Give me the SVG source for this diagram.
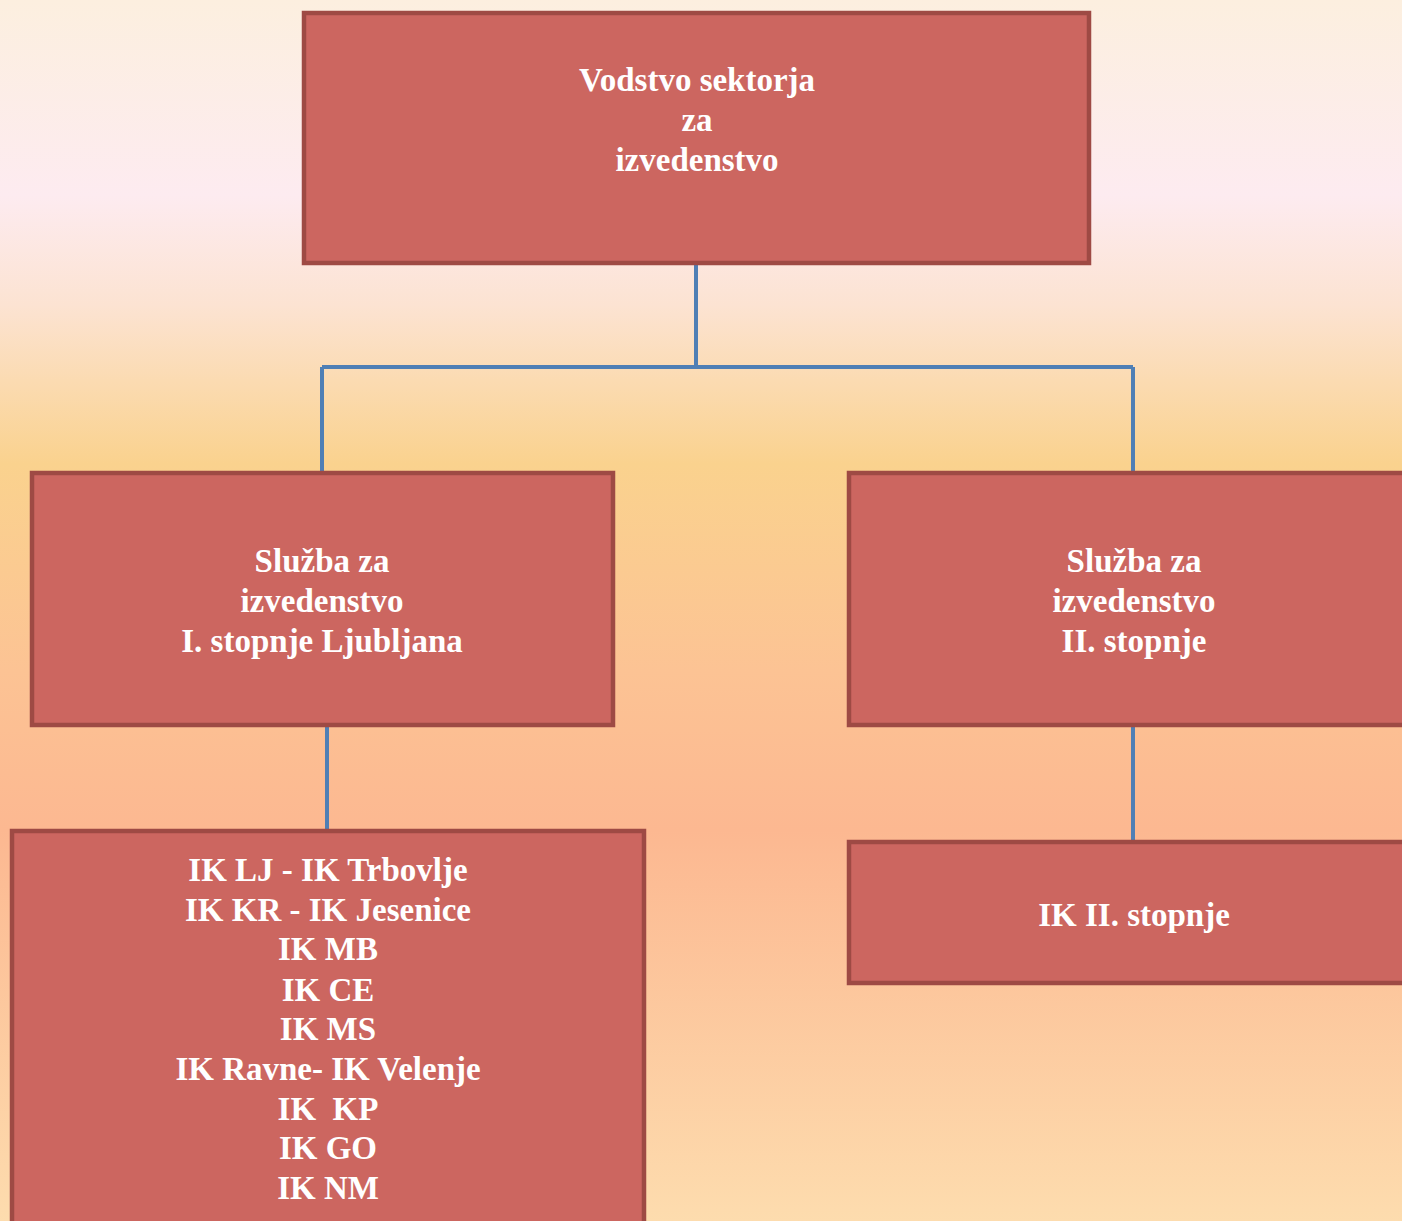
<svg xmlns="http://www.w3.org/2000/svg" width="1402" height="1221" viewBox="0 0 1402 1221">
<defs>
<linearGradient id="bg" x1="0" y1="0" x2="0" y2="1">
<stop offset="0" stop-color="#fcefdf"/>
<stop offset="0.16" stop-color="#fdebf0"/>
<stop offset="0.25" stop-color="#fce3d2"/>
<stop offset="0.38" stop-color="#fad28e"/>
<stop offset="0.55" stop-color="#fcc394"/>
<stop offset="0.68" stop-color="#fcb891"/>
<stop offset="1" stop-color="#fddcae"/>
</linearGradient>
<style>
.box{fill:#cc6660;stroke:#9e4a44;stroke-width:4.5}
.t{font-family:"Liberation Serif","Times New Roman",serif;font-weight:bold;font-size:33px;fill:#ffffff;text-anchor:middle}
.c{fill:none;stroke:#4f7fb5;stroke-width:4}
</style>
</defs>
<rect x="0" y="0" width="1402" height="1221" fill="url(#bg)"/>
<g id="connectors">
<path class="c" d="M696 263 V367 M322 367 H1133 M322 367 V472 M1133 367 V472"/>
<path class="c" d="M327 725 V830"/>
<path class="c" d="M1133 725 V841"/>
</g>
<g id="vodstvo">
<rect class="box" x="304" y="13" width="785" height="250"/>
<text class="t" x="697" y="91">Vodstvo sektorja</text>
<text class="t" x="697" y="131">za</text>
<text class="t" x="697" y="171">izvedenstvo</text>
</g>
<g id="sluzba1">
<rect class="box" x="32" y="473" width="581" height="252"/>
<text class="t" x="322" y="572">Služba za</text>
<text class="t" x="322" y="612">izvedenstvo</text>
<text class="t" x="322" y="652">I. stopnje Ljubljana</text>
</g>
<g id="sluzba2">
<rect class="box" x="849" y="473" width="570" height="252"/>
<text class="t" x="1134" y="572">Služba za</text>
<text class="t" x="1134" y="612">izvedenstvo</text>
<text class="t" x="1134" y="652">II. stopnje</text>
</g>
<g id="ik1">
<rect class="box" x="12" y="831" width="632" height="420"/>
<text class="t" x="328" y="881">IK LJ - IK Trbovlje</text>
<text class="t" x="328" y="921">IK KR - IK Jesenice</text>
<text class="t" x="328" y="960">IK MB</text>
<text class="t" x="328" y="1001">IK CE</text>
<text class="t" x="328" y="1040">IK MS</text>
<text class="t" x="328" y="1080">IK Ravne- IK Velenje</text>
<text class="t" x="328" y="1120" xml:space="preserve">IK  KP</text>
<text class="t" x="328" y="1159">IK GO</text>
<text class="t" x="328" y="1199">IK NM</text>
</g>
<g id="ik2">
<rect class="box" x="849" y="842" width="570" height="141"/>
<text class="t" x="1134" y="926">IK II. stopnje</text>
</g>
</svg>
